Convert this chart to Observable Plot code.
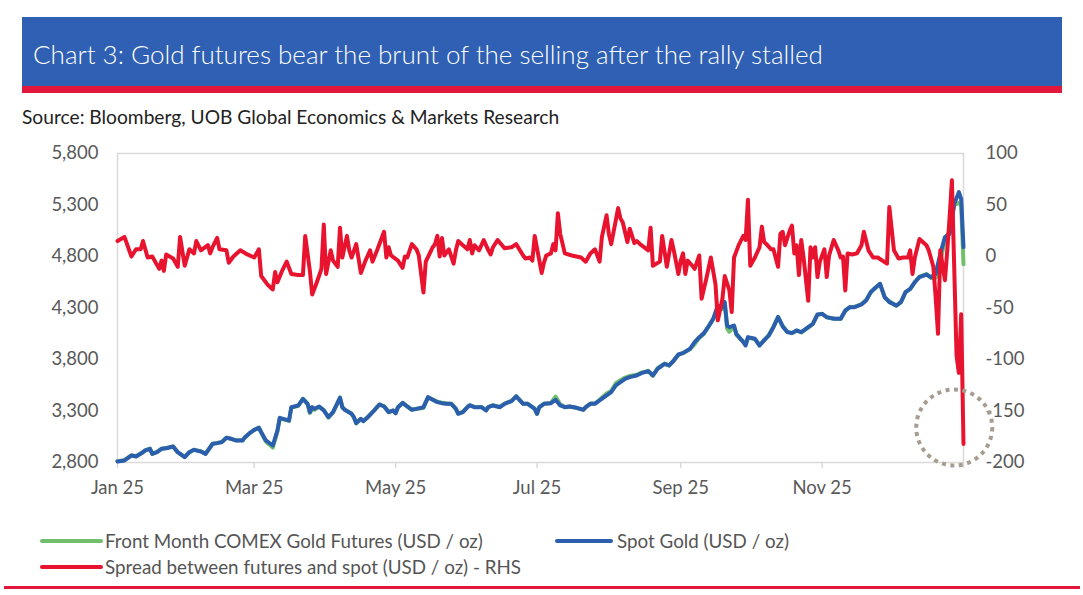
<!DOCTYPE html>
<html><head><meta charset="utf-8">
<script src="https://cdn.jsdelivr.net/npm/d3@7"></script>
<script src="https://cdn.jsdelivr.net/npm/@observablehq/plot@0.6"></script>
<style>
body{margin:0;width:1083px;height:595px;background:#fff;font-family:Lato,"Open Sans",sans-serif;position:relative;overflow:hidden}
#banner{position:absolute;left:22px;top:17px;width:1040px;height:69px;background:#2f60b3;border-bottom:7px solid #e2173b}
#title{position:absolute;left:11px;top:3px;line-height:69px;color:#fff;font-size:26px;font-weight:300;white-space:nowrap}
#source{position:absolute;left:22px;top:105px;font-size:19.2px;color:#222;white-space:nowrap}
#chart{position:absolute;left:0;top:140px}
.leg{position:absolute;font-size:18.8px;color:#555;white-space:nowrap;line-height:20px}
.sw{position:absolute;height:4px;border-radius:2px}
#bottomline{position:absolute;left:4px;width:1076px;top:586px;height:3px;background:#e2173b}
</style></head>
<body>
<div id="banner"><div id="title"></div></div>
<div id="source"></div>
<div id="chart"></div>
<div class="sw" style="left:40px;top:539px;width:63px;background:#70bf6b"></div>
<div class="leg" id="l1" style="left:105px;top:531px"></div>
<div class="sw" style="left:555px;top:539px;width:58px;background:#2b5fae"></div>
<div class="leg" id="l2" style="left:617px;top:531px"></div>
<div class="sw" style="left:40px;top:565px;width:63px;background:#e8132f"></div>
<div class="leg" id="l3" style="left:105px;top:557px"></div>
<div id="bottomline"></div>
<script>
const titleText = "Chart 3: Gold futures bear the brunt of the selling after the rally stalled";
const sourceText = "Source: Bloomberg, UOB Global Economics & Markets Research";
const seriesNames = ["Front Month COMEX Gold Futures (USD / oz)", "Spot Gold (USD / oz)", "Spread between futures and spot (USD / oz) - RHS"];

const goldTicks = [2800, 3300, 3800, 4300, 4800, 5300, 5800];
const spreadTicks = [-200, -150, -100, -50, 0, 50, 100];
const monthTicks = ["2025-01-01","2025-03-01","2025-05-01","2025-07-01","2025-09-01","2025-11-01","2026-01-01"];

// Spot gold (USD/oz)
const spot = [
["2025-01-01",2810],["2025-01-04",2820],["2025-01-07",2868],["2025-01-09",2858],["2025-01-12",2900],["2025-01-13",2917],["2025-01-15",2933],["2025-01-16",2884],["2025-01-18",2900],["2025-01-20",2933],["2025-01-22",2939],["2025-01-25",2955],["2025-01-27",2900],["2025-01-30",2852],
["2025-02-01",2900],["2025-02-03",2923],["2025-02-06",2907],["2025-02-08",2884],["2025-02-11",2981],["2025-02-13",2988],["2025-02-15",2998],["2025-02-17",3040],["2025-02-19",3030],["2025-02-21",3014],["2025-02-24",3014],["2025-02-25",3046],["2025-02-27",3085],
["2025-03-01",3117],["2025-03-03",3137],["2025-03-04",3095],["2025-03-06",3014],["2025-03-09",2965],["2025-03-11",3111],["2025-03-12",3234],["2025-03-15",3214],["2025-03-16",3208],["2025-03-17",3337],["2025-03-20",3354],["2025-03-22",3418],["2025-03-24",3370],["2025-03-25",3289],["2025-03-26",3337],["2025-03-27",3321],["2025-03-29",3344],["2025-03-31",3305],
["2025-04-02",3240],["2025-04-04",3289],["2025-04-07",3428],["2025-04-08",3337],["2025-04-09",3312],["2025-04-12",3273],["2025-04-13",3240],["2025-04-14",3182],["2025-04-16",3224],["2025-04-17",3201],["2025-04-19",3240],["2025-04-22",3312],["2025-04-24",3363],["2025-04-26",3344],["2025-04-28",3289],["2025-04-30",3305],
["2025-05-01",3279],["2025-05-02",3337],["2025-05-04",3379],["2025-05-06",3344],["2025-05-08",3312],["2025-05-10",3321],["2025-05-13",3337],["2025-05-15",3434],["2025-05-17",3409],["2025-05-19",3386],["2025-05-21",3376],["2025-05-23",3370],["2025-05-25",3370],["2025-05-27",3321],["2025-05-28",3273],["2025-05-30",3289],
["2025-06-01",3337],["2025-06-02",3354],["2025-06-04",3337],["2025-06-07",3337],["2025-06-09",3305],["2025-06-10",3337],["2025-06-12",3354],["2025-06-15",3337],["2025-06-17",3370],["2025-06-20",3396],["2025-06-22",3441],["2025-06-25",3370],["2025-06-27",3370],["2025-06-30",3321],
["2025-07-01",3273],["2025-07-02",3337],["2025-07-04",3370],["2025-07-07",3376],["2025-07-09",3409],["2025-07-11",3354],["2025-07-13",3337],["2025-07-15",3344],["2025-07-18",3331],["2025-07-21",3312],["2025-07-22",3337],["2025-07-24",3370],["2025-07-26",3370],["2025-07-28",3402],["2025-07-31",3451],
["2025-08-02",3483],["2025-08-04",3548],["2025-08-06",3580],["2025-08-08",3612],["2025-08-10",3629],["2025-08-13",3645],["2025-08-15",3667],["2025-08-18",3687],["2025-08-20",3645],["2025-08-22",3710],["2025-08-25",3758],["2025-08-27",3742],["2025-08-29",3790],["2025-08-31",3849],
["2025-09-02",3862],["2025-09-05",3904],["2025-09-07",3968],["2025-09-09",4017],["2025-09-11",4056],["2025-09-13",4121],["2025-09-15",4195],["2025-09-17",4324],["2025-09-19",4308],["2025-09-20",4357],["2025-09-21",4130],["2025-09-22",4114],["2025-09-24",4130],["2025-09-25",4049],["2025-09-28",3968],["2025-09-29",3936],["2025-09-30",4017],
["2025-10-03",4001],["2025-10-05",3936],["2025-10-07",3985],["2025-10-09",4033],["2025-10-11",4114],["2025-10-13",4211],["2025-10-15",4121],["2025-10-17",4066],["2025-10-19",4056],["2025-10-21",4082],["2025-10-23",4066],["2025-10-26",4114],["2025-10-28",4146],["2025-10-30",4237],
["2025-11-01",4243],["2025-11-03",4211],["2025-11-06",4195],["2025-11-09",4195],["2025-11-11",4276],["2025-11-13",4308],["2025-11-15",4308],["2025-11-18",4334],["2025-11-20",4373],["2025-11-22",4454],["2025-11-24",4496],["2025-11-26",4535],["2025-11-28",4405],["2025-11-30",4357],
["2025-12-03",4324],["2025-12-05",4357],["2025-12-07",4454],["2025-12-09",4486],["2025-12-11",4551],["2025-12-13",4599],["2025-12-16",4625],["2025-12-18",4599],["2025-12-20",4632],["2025-12-22",4826],["2025-12-24",4988],["2025-12-26",5020],["2025-12-27",5150],["2025-12-28",5311],["2025-12-30",5425],["2025-12-31",5360],
["2026-01-01",4891]
];

// Front-month COMEX futures (USD/oz) - mostly hidden under the spot line
const futures = [
["2025-01-01",2812],["2025-01-04",2822],["2025-01-07",2870],["2025-01-09",2860],["2025-01-12",2902],["2025-01-13",2918],["2025-01-15",2935],["2025-01-16",2885],["2025-01-18",2900],["2025-01-20",2934],["2025-01-22",2940],["2025-01-25",2956],["2025-01-27",2898],["2025-01-30",2852],
["2025-02-01",2901],["2025-02-03",2924],["2025-02-06",2908],["2025-02-08",2885],["2025-02-11",2982],["2025-02-13",2990],["2025-02-15",2999],["2025-02-17",3041],["2025-02-19",3030],["2025-02-21",3015],["2025-02-24",3015],["2025-02-25",3046],["2025-02-27",3085],
["2025-03-01",3117],["2025-03-03",3138],["2025-03-04",3090],["2025-03-06",3005],["2025-03-09",2945],["2025-03-11",3100],["2025-03-12",3228],["2025-03-15",3210],["2025-03-16",3204],["2025-03-17",3333],["2025-03-20",3350],["2025-03-22",3418],["2025-03-24",3372],["2025-03-25",3280],["2025-03-26",3320],["2025-03-27",3312],["2025-03-29",3340],["2025-03-31",3310],
["2025-04-02",3236],["2025-04-04",3287],["2025-04-07",3432],["2025-04-08",3336],["2025-04-09",3314],["2025-04-12",3273],["2025-04-13",3238],["2025-04-14",3180],["2025-04-16",3222],["2025-04-17",3202],["2025-04-19",3241],["2025-04-22",3314],["2025-04-24",3364],["2025-04-26",3348],["2025-04-28",3290],["2025-04-30",3305],
["2025-05-01",3278],["2025-05-02",3336],["2025-05-04",3378],["2025-05-06",3344],["2025-05-08",3314],["2025-05-10",3322],["2025-05-13",3330],["2025-05-15",3434],["2025-05-17",3412],["2025-05-19",3390],["2025-05-21",3380],["2025-05-23",3372],["2025-05-25",3371],["2025-05-27",3322],["2025-05-28",3277],["2025-05-30",3292],
["2025-06-01",3340],["2025-06-02",3358],["2025-06-04",3340],["2025-06-07",3340],["2025-06-09",3308],["2025-06-10",3339],["2025-06-12",3357],["2025-06-15",3340],["2025-06-17",3372],["2025-06-20",3398],["2025-06-22",3445],["2025-06-25",3372],["2025-06-27",3370],["2025-06-30",3324],
["2025-07-01",3272],["2025-07-02",3337],["2025-07-04",3370],["2025-07-07",3378],["2025-07-09",3440],["2025-07-11",3365],["2025-07-13",3338],["2025-07-15",3344],["2025-07-18",3331],["2025-07-21",3312],["2025-07-22",3336],["2025-07-24",3372],["2025-07-26",3372],["2025-07-28",3410],["2025-07-31",3470],
["2025-08-02",3495],["2025-08-04",3570],["2025-08-06",3598],["2025-08-08",3625],["2025-08-10",3640],["2025-08-13",3652],["2025-08-15",3672],["2025-08-18",3690],["2025-08-20",3642],["2025-08-22",3715],["2025-08-25",3760],["2025-08-27",3740],["2025-08-29",3792],["2025-08-31",3845],
["2025-09-02",3864],["2025-09-05",3900],["2025-09-07",3950],["2025-09-09",4010],["2025-09-11",4048],["2025-09-13",4120],["2025-09-15",4190],["2025-09-17",4290],["2025-09-19",4290],["2025-09-20",4340],["2025-09-21",4100],["2025-09-22",4070],["2025-09-24",4120],["2025-09-25",4040],["2025-09-28",3975],["2025-09-29",3945],["2025-09-30",4010],
["2025-10-03",4000],["2025-10-05",3938],["2025-10-07",3990],["2025-10-09",4036],["2025-10-11",4118],["2025-10-13",4215],["2025-10-15",4125],["2025-10-17",4068],["2025-10-19",4058],["2025-10-21",4082],["2025-10-23",4062],["2025-10-26",4110],["2025-10-28",4146],["2025-10-30",4235],
["2025-11-01",4244],["2025-11-03",4208],["2025-11-06",4198],["2025-11-09",4194],["2025-11-11",4270],["2025-11-13",4310],["2025-11-15",4310],["2025-11-18",4338],["2025-11-20",4378],["2025-11-22",4456],["2025-11-24",4496],["2025-11-26",4534],["2025-11-28",4400],["2025-11-30",4365],
["2025-12-03",4322],["2025-12-05",4356],["2025-12-07",4454],["2025-12-09",4484],["2025-12-11",4550],["2025-12-13",4605],["2025-12-16",4630],["2025-12-18",4590],["2025-12-20",4595],["2025-12-22",4750],["2025-12-24",4965],["2025-12-26",5045],["2025-12-27",5200],["2025-12-28",5300],["2025-12-30",5320],["2025-12-31",5300],
["2026-01-01",4725]
];

// Spread between futures and spot (USD/oz), right-hand scale
const spread = [
["2025-01-01",15],["2025-01-04",19],["2025-01-07",0],["2025-01-09",7],["2025-01-11",7],["2025-01-12",15],["2025-01-14",-1],["2025-01-16",0],["2025-01-19",-12],["2025-01-20",-4],["2025-01-21",-14],["2025-01-22",2],["2025-01-25",-2],["2025-01-27",-10],["2025-01-28",19],["2025-01-30",-9],
["2025-02-01",7],["2025-02-03",3],["2025-02-04",15],["2025-02-06",6],["2025-02-09",11],["2025-02-10",3],["2025-02-11",9],["2025-02-13",18],["2025-02-14",7],["2025-02-17",6],["2025-02-18",-6],["2025-02-20",0],["2025-02-23",6],["2025-02-26",2],
["2025-03-01",-1],["2025-03-03",7],["2025-03-04",-19],["2025-03-07",-28],["2025-03-09",-32],["2025-03-10",-15],["2025-03-11",-25],["2025-03-13",-14],["2025-03-15",-5],["2025-03-17",-17],["2025-03-20",-18],["2025-03-22",-18],["2025-03-23",20],["2025-03-25",-14],["2025-03-26",-37],["2025-03-28",-25],["2025-03-30",-12],["2025-03-31",31],
["2025-04-01",-17],["2025-04-03",6],["2025-04-04",-4],["2025-04-06",-10],["2025-04-07",28],["2025-04-08",-1],["2025-04-10",20],["2025-04-11",6],["2025-04-12",-1],["2025-04-14",12],["2025-04-16",-16],["2025-04-18",-4],["2025-04-20",6],["2025-04-21",-5],["2025-04-23",6],["2025-04-26",24],["2025-04-27",-1],["2025-04-28",9],["2025-04-29",1],
["2025-05-02",-4],["2025-05-04",-11],["2025-05-05",0],["2025-05-06",-1],["2025-05-08",12],["2025-05-10",7],["2025-05-11",1],["2025-05-13",-35],["2025-05-14",-5],["2025-05-17",9],["2025-05-18",12],["2025-05-19",20],["2025-05-20",0],["2025-05-21",18],["2025-05-22",1],["2025-05-24",7],["2025-05-26",-7],["2025-05-27",6],["2025-05-28",15],["2025-05-30",11],
["2025-06-01",7],["2025-06-02",16],["2025-06-03",3],["2025-06-04",11],["2025-06-06",6],["2025-06-08",16],["2025-06-10",6],["2025-06-11",2],["2025-06-12",9],["2025-06-14",16],["2025-06-17",8],["2025-06-20",9],["2025-06-22",12],["2025-06-25",1],["2025-06-26",-2],["2025-06-28",-1],["2025-06-29",-4],["2025-06-30",20],
["2025-07-02",-4],["2025-07-03",-16],["2025-07-04",-6],["2025-07-05",1],["2025-07-07",3],["2025-07-08",12],["2025-07-09",6],["2025-07-10",42],["2025-07-11",22],["2025-07-13",3],["2025-07-16",1],["2025-07-20",-1],["2025-07-22",-5],["2025-07-24",3],["2025-07-26",7],["2025-07-28",-5],["2025-07-29",19],["2025-07-31",40],
["2025-08-01",22],["2025-08-02",12],["2025-08-05",47],["2025-08-06",37],["2025-08-07",33],["2025-08-09",14],["2025-08-10",27],["2025-08-12",13],["2025-08-13",15],["2025-08-15",11],["2025-08-18",6],["2025-08-19",28],["2025-08-20",-9],["2025-08-23",-5],["2025-08-24",20],["2025-08-26",-10],["2025-08-28",16],["2025-08-29",6],["2025-08-31",-17],
["2025-09-01",-4],["2025-09-02",3],["2025-09-03",-17],["2025-09-04",-4],["2025-09-06",-9],["2025-09-07",-12],["2025-09-09",1],["2025-09-10",-41],["2025-09-12",-22],["2025-09-14",-1],["2025-09-16",-27],["2025-09-17",-62],["2025-09-19",-41],["2025-09-20",-19],["2025-09-22",-33],["2025-09-23",-54],["2025-09-24",-1],["2025-09-26",11],["2025-09-28",20],["2025-09-29",16],["2025-09-30",55],
["2025-10-01",-9],["2025-10-03",-1],["2025-10-05",9],["2025-10-06",29],["2025-10-07",14],["2025-10-08",12],["2025-10-10",7],["2025-10-11",7],["2025-10-13",-10],["2025-10-14",22],["2025-10-15",24],["2025-10-16",11],["2025-10-18",25],["2025-10-19",30],["2025-10-20",3],["2025-10-21",11],["2025-10-22",-18],["2025-10-23",16],["2025-10-24",-1],["2025-10-26",-43],["2025-10-27",9],["2025-10-28",-1],["2025-10-29",9],["2025-10-30",-20],["2025-10-31",-5],
["2025-11-02",7],["2025-11-03",-20],["2025-11-04",1],["2025-11-06",16],["2025-11-08",6],["2025-11-09",-1],["2025-11-10",0],["2025-11-11",-33],["2025-11-12",3],["2025-11-14",2],["2025-11-16",3],["2025-11-18",11],["2025-11-19",24],["2025-11-21",6],["2025-11-23",-1],["2025-11-25",-1],["2025-11-27",-4],["2025-11-29",-7],["2025-11-30",48],
["2025-12-02",6],["2025-12-04",-2],["2025-12-06",-1],["2025-12-08",-1],["2025-12-09",6],["2025-12-10",-17],["2025-12-11",-1],["2025-12-13",17],["2025-12-16",11],["2025-12-17",6],["2025-12-19",-10],["2025-12-20",-40],["2025-12-21",-75],["2025-12-22",6],["2025-12-23",-9],["2025-12-24",-23],["2025-12-25",6],["2025-12-26",38],["2025-12-27",74],["2025-12-29",-96],["2025-12-30",-113],["2025-12-31",-56],
["2026-01-01",-182]
];

// Highlight ring around the final collapse of the spread (RHS units)
const highlight = [["2025-12-28", -166]];

const colors = {futures:"#70bf6b", spot:"#2b5fae", spread:"#e8132f", ring:"#a69d90"};

document.getElementById("title").textContent = titleText;
document.getElementById("source").textContent = sourceText;
document.getElementById("l1").textContent = seriesNames[0];
document.getElementById("l2").textContent = seriesNames[1];
document.getElementById("l3").textContent = seriesNames[2];

const parse = s => new Date(s + "T00:00:00Z");
const toRows = arr => arr.map(([d, v]) => ({date: parse(d), value: v}));
// map right-hand (spread) units onto the left-hand gold scale
const g0 = goldTicks[0], g1 = goldTicks[goldTicks.length - 1];
const s0 = spreadTicks[0], s1 = spreadTicks[spreadTicks.length - 1];
const k = (g1 - g0) / (s1 - s0);
const toGold = s => g0 + (s - s0) * k;
const fromGold = g => s0 + (g - g0) / k;

const xDomain = [parse(monthTicks[0]), parse(monthTicks[monthTicks.length - 1])];
const fmt = d3.utcFormat("%b %y");

const chart = Plot.plot({
  width: 1083, height: 370,
  marginLeft: 117, marginRight: 120, marginTop: 13, marginBottom: 48,
  style: {fontFamily: "Lato, 'Open Sans', sans-serif", fontSize: "18.5px", color: "#595959", background: "transparent"},
  x: {type: "utc", domain: xDomain, label: null},
  y: {domain: [g0, g1], label: null},
  marks: [
    Plot.frame({stroke: "#d9d9d9", strokeWidth: 1.5}),
    Plot.axisX({ticks: monthTicks.map(parse), tickFormat: d => +d >= +xDomain[1] ? "" : fmt(d), tickSize: 6, tickPadding: 12, stroke: "#d9d9d9", strokeWidth: 1.5, fill: "#595959", fontSize: 18.5, label: null}),
    Plot.axisY({anchor: "left", ticks: goldTicks, tickFormat: d3.format(","), tickSize: 0, tickPadding: 19, fontSize: 18.5, fill: "#595959", label: null}),
    Plot.axisY({anchor: "right", ticks: spreadTicks.map(toGold), tickFormat: g => String(Math.round(fromGold(g))), tickSize: 0, tickPadding: 22, fontSize: 18.5, fill: "#595959", label: null}),
    Plot.lineY(toRows(futures), {x: "date", y: "value", stroke: colors.futures, strokeWidth: 4, strokeLinejoin: "round"}),
    Plot.lineY(toRows(spot), {x: "date", y: "value", stroke: colors.spot, strokeWidth: 4, strokeLinejoin: "round"}),
    Plot.lineY(toRows(spread), {x: "date", y: d => toGold(d.value), stroke: colors.spread, strokeWidth: 4, strokeLinejoin: "round"}),
    Plot.dot(toRows(highlight), {x: "date", y: d => toGold(d.value), r: 38, stroke: colors.ring, strokeWidth: 4, strokeDasharray: "4,4.5", fill: "none"})
  ]
});
document.getElementById("chart").appendChild(chart);
</script>
</body></html>
